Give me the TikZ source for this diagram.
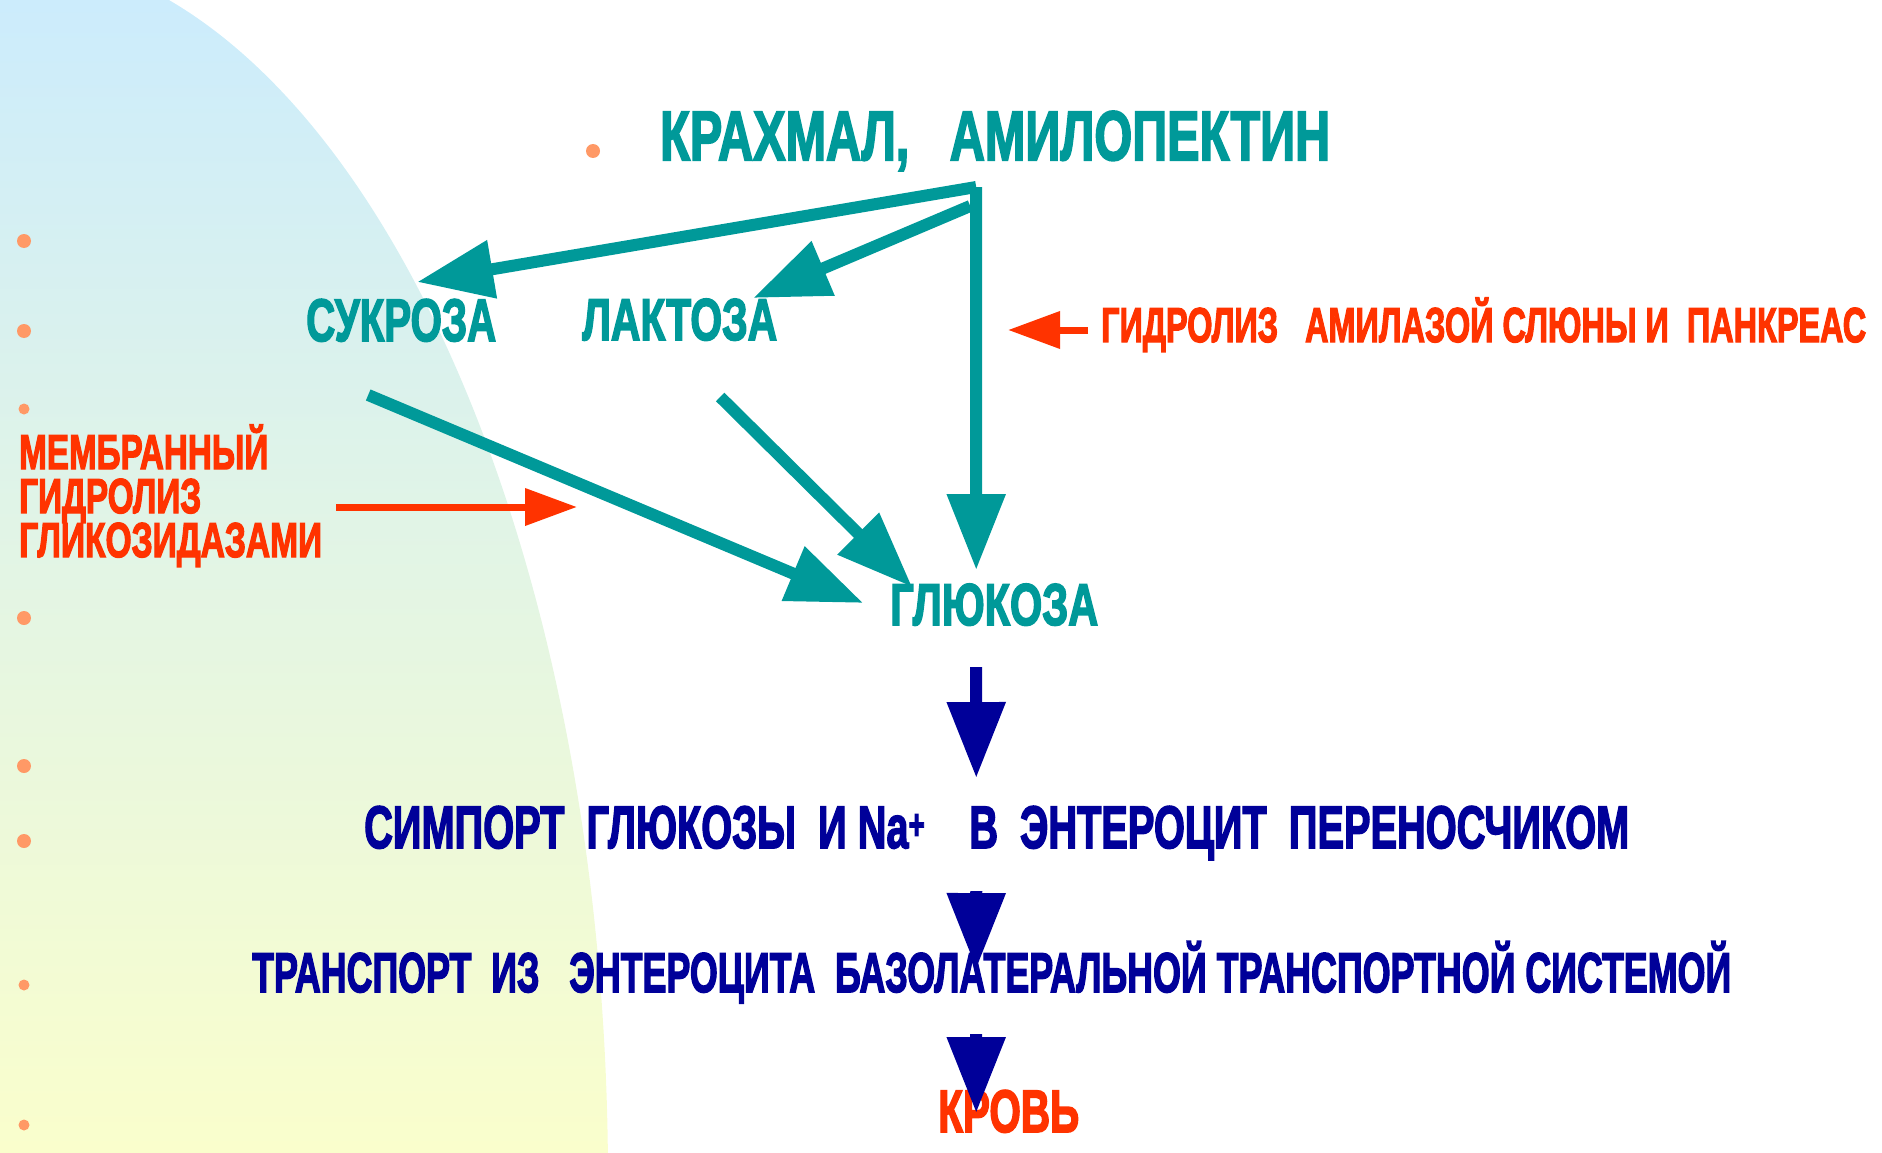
\documentclass[tikz,border=0pt]{standalone}
\usepackage{fontspec}
\setmainfont{Liberation Sans}
\newfontfamily\heavyfont{Liberation Sans Bold}[FakeBold=3]
\usepackage{graphicx}
\usetikzlibrary{arrows.meta}
\definecolor{krTeal}{RGB}{0,153,153}
\definecolor{krRed}{RGB}{255,51,0}
\definecolor{krNavy}{RGB}{0,0,153}
\definecolor{krDot}{RGB}{255,153,102}
\definecolor{bgTop}{RGB}{204,236,252}
\definecolor{bgBottom}{RGB}{250,254,204}
\newcommand{\squeeze}[2]{\resizebox{#1}{\height}{#2}}
\tikzset{
  txt/.style={inner sep=0pt, anchor=base west, font=\heavyfont},
  tealarrow/.style={krTeal, line width=12pt, -{Triangle[length=76pt,width=56pt]}},
  navyarrow/.style={krNavy, line width=12pt, -{Triangle[length=76pt,width=56pt]}},
  redarrow/.style={krRed, line width=7pt, -{Triangle[length=52pt,width=36pt]}}
}
\begin{document}
\begin{tikzpicture}[x=1pt, y=-1pt]
\useasboundingbox (0,0) rectangle (1882,1153);
% background
\begin{scope}
\clip (0,1180) ellipse [x radius=608pt, y radius=1228pt];
\shade[top color=bgTop, bottom color=bgBottom] (0,0) rectangle (620,1153);
\end{scope}
\foreach \y in {241,331,618,766,841} \fill[krDot] (24,\y) circle (7pt);
\foreach \y in {409,985,1125} \fill[krDot] (24,\y) circle (5.5pt);
\fill[krDot] (593,151) circle (7pt);

\node[txt, krTeal] (kraxmal) at (660,160) {\fontsize{70}{70}\selectfont\squeeze{670pt}{КРАХМАЛ,~~~АМИЛОПЕКТИН}};
\node[txt, krTeal] (sukroza) at (306,341) {\fontsize{60}{60}\selectfont\squeeze{190pt}{СУКРОЗА}};
\node[txt, krTeal] (laktoza) at (582,340) {\fontsize{59}{59}\selectfont\squeeze{195pt}{ЛАКТОЗА}};
\node[txt, krTeal] (glukoza) at (890,625) {\fontsize{59}{59}\selectfont\squeeze{208pt}{ГЛЮКОЗА}};
\node[txt, krRed] (amilaza) at (1101,342) {\fontsize{49}{49}\selectfont\squeeze{765pt}{ГИДРОЛИЗ~~~АМИЛАЗОЙ СЛЮНЫ И~~ПАНКРЕАС}};
\node[txt, krRed] (membr) at (19,469) {\fontsize{49}{49}\selectfont\squeeze{249pt}{МЕМБРАННЫЙ}};
\node[txt, krRed] (gidroliz) at (19,513) {\fontsize{49}{49}\selectfont\squeeze{182pt}{ГИДРОЛИЗ}};
\node[txt, krRed] (glikozid) at (19,557) {\fontsize{49}{49}\selectfont\squeeze{303pt}{ГЛИКОЗИДАЗАМИ}};
\node[txt, krNavy] (simport) at (364,848) {\fontsize{60}{60}\selectfont\squeeze{1265pt}{СИМПОРТ~~ГЛЮКОЗЫ~~И Na\textsuperscript{+}~~~~В~~ЭНТЕРОЦИТ~~ПЕРЕНОСЧИКОМ}};
\node[txt, krNavy] (transport) at (252,992) {\fontsize{56}{56}\selectfont\squeeze{1479pt}{ТРАНСПОРТ~~ИЗ~~~ЭНТЕРОЦИТА~~БАЗОЛАТЕРАЛЬНОЙ ТРАНСПОРТНОЙ СИСТЕМОЙ}};
\node[txt, krRed] (krov) at (938,1132) {\fontsize{60}{60}\selectfont\squeeze{141pt}{КРОВЬ}};

% hydrolysis of starch
\coordinate (fork) at ([shift={(-19,27)}]kraxmal.base);
\draw[tealarrow] (fork) -- ([shift={(16,-59)}]sukroza.base);
\draw[tealarrow] ([shift={(-25,46)}]kraxmal.base) -- ([shift={(73.5,-42)}]laktoza.base);
\draw[tealarrow] (fork) -- ([shift={(-18,-55)}]glukoza.base);
\draw[tealarrow] ([shift={(-33,54)}]sukroza.base) -- ([shift={(-131,-22)}]glukoza.base);
\draw[tealarrow] ([shift={(40.5,57)}]laktoza.base) -- ([shift={(-82,-38)}]glukoza.base);

% transport
\draw[navyarrow] ([shift={(-18,42)}]glukoza.base) -- ([shift={(-20.5,-70)}]simport.base);
\draw[navyarrow] ([shift={(-20.5,43)}]simport.base) -- ([shift={(-15.5,-23)}]transport.base);
\draw[navyarrow] ([shift={(-15.5,42)}]transport.base) -- ([shift={(-32.5,-19)}]krov.base);

\coordinate (memTip) at (577,507);
\draw[redarrow] ([shift={(135,-6)}]gidroliz.base east) -- (memTip);
\coordinate (amilTip) at (1008,330);
\draw[redarrow] ([shift={(-13,-12)}]amilaza.base west) -- (amilTip);
\end{tikzpicture}
\end{document}
